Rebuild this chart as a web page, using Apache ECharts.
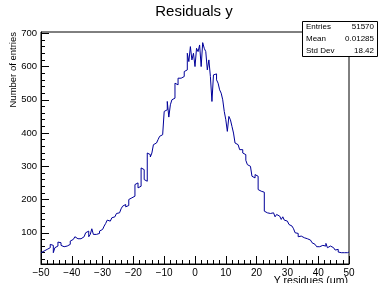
<!DOCTYPE html>
<html>
<head>
<meta charset="utf-8">
<script src="https://cdn.jsdelivr.net/npm/echarts@6/dist/echarts.min.js"></script>
<style>html,body{margin:0;padding:0;background:#fff}#c{width:379px;height:283px}</style>
</head>
<body>
<div id="c"></div>
<script>
const binLow = -50, binWidth = 0.5;
const counts = [
  40, 45, 48, 50, 52, 55, 65, 62, 40, 55,
  60, 72, 70, 62, 58, 60, 60, 62, 65, 75,
  80, 85, 88, 82, 83, 82, 85, 88, 90, 100,
  105, 88, 95, 112, 95, 95, 100, 98, 105, 110,
  110, 120, 128, 138, 135, 140, 145, 148, 152, 158,
  160, 165, 172, 180, 185, 178, 182, 200, 205, 210,
  210, 245, 250, 235, 240, 295, 290, 260, 255, 340,
  335, 328, 340, 365, 370, 375, 380, 390, 395, 400,
  465, 470, 495, 448, 485, 500, 505, 550, 545, 565,
  565, 568, 570, 585, 590, 640, 615, 660, 620, 640,
  600, 655, 645, 665, 600, 672, 655, 645, 590, 620,
  570, 495, 575, 578, 560, 550, 530, 520, 500, 465,
  440, 405, 450, 440, 420, 400, 370, 365, 360, 350,
  350, 340, 335, 318, 305, 300, 295, 270, 265, 275,
  270, 230, 225, 220, 222, 165, 160, 162, 158, 160,
  160, 155, 148, 155, 150, 145, 140, 148, 138, 135,
  135, 125, 120, 118, 112, 100, 98, 88, 90, 85,
  85, 82, 82, 80, 78, 75, 70, 65, 62, 58,
  58, 60, 62, 65, 60, 68, 55, 60, 65, 55,
  52, 48, 50, 42, 40, 45, 40, 42, 40, 42
];
const yMajorTicks = [100, 200, 300, 400, 500, 600, 700];
const yMinorTicks = [20,40,60,80,120,140,160,180,220,240,260,280,320,340,360,380,420,440,460,480,520,540,560,580,620,640,660,680,700];
const statsLabels = ['Entries', 'Mean', 'Std Dev'];
const statsValues = ['51570', '0.01285', '18.42'];

const pts = counts.map((v, i) => [binLow + i * binWidth, v]);
pts.push([binLow + counts.length * binWidth, counts[counts.length - 1]]);

const FONT = 'Liberation Sans, Arial, sans-serif';
const chart = echarts.init(document.getElementById('c'), null, {renderer: 'canvas'});
const statsGraphics = [];
statsGraphics.push({type: 'rect', shape: {x: 302.5, y: 21.5, width: 75, height: 35}, style: {fill: '#fff', stroke: '#000', lineWidth: 1}, z: 100});
statsLabels.forEach((t, i) => {
  statsGraphics.push({type: 'text', x: 306, y: 27 + i * 12, style: {text: t, fill: '#000', font: '8px ' + FONT, textVerticalAlign: 'middle', textAlign: 'left'}, z: 101});
  statsGraphics.push({type: 'text', x: 374, y: 27 + i * 12, style: {text: statsValues[i], fill: '#000', font: '8px ' + FONT, textVerticalAlign: 'middle', textAlign: 'right'}, z: 101});
});

chart.setOption({
  animation: false,
  backgroundColor: '#fff',
  grid: {left: 41, right: 30, top: 32, bottom: 19, show: true, borderColor: '#000', borderWidth: 1, backgroundColor: 'transparent'},
  xAxis: {
    type: 'value', min: -50, max: 50, interval: 10,
    axisLine: {show: true, onZero: false, lineStyle: {color: '#000', width: 1}},
    axisTick: {show: true, inside: true, length: 8, lineStyle: {color: '#000'}},
    minorTick: {show: true, splitNumber: 5, length: 4, lineStyle: {color: '#000'}},
    splitLine: {show: false},
    axisLabel: {color: '#000', fontFamily: FONT, fontSize: 10, margin: 4,
      formatter: v => (v < 0 ? '\u2212' + Math.abs(v) : String(v))}
  },
  yAxis: [{
    type: 'value', min: 6, max: 704,
    axisLine: {show: true, onZero: false, lineStyle: {color: '#000', width: 1}},
    axisTick: {show: true, inside: true, length: 8, customValues: yMajorTicks, lineStyle: {color: '#000'}},
    splitLine: {show: false},
    axisLabel: {color: '#000', fontFamily: FONT, fontSize: 9.5, margin: 4, customValues: yMajorTicks}
  }, {
    type: 'value', min: 6, max: 704, position: 'left',
    axisLine: {show: false, onZero: false},
    axisTick: {show: true, inside: true, length: 4, customValues: yMinorTicks, lineStyle: {color: '#000'}},
    splitLine: {show: false},
    axisLabel: {show: false}
  }],
  series: [{
    type: 'line', step: 'end', data: pts, symbol: 'none', yAxisIndex: 0,
    lineStyle: {color: '#000099', width: 1}, z: 5
  }],
  graphic: [
    {type: 'text', x: 194, y: 12, style: {text: 'Residuals y', fill: '#000', font: '15px ' + FONT, textAlign: 'center', textVerticalAlign: 'middle'}},
    {type: 'text', x: 348, y: 281, style: {text: 'Y residues (\u03bcm)', fill: '#000', font: '10.5px ' + FONT, textAlign: 'right', textVerticalAlign: 'middle'}},
    {type: 'text', x: 13, y: 32, rotation: Math.PI / 2, style: {text: 'Number of entries', fill: '#000', font: '9.5px ' + FONT, textAlign: 'right', textVerticalAlign: 'middle'}},
    ...statsGraphics
  ]
});
</script>
</body>
</html>
